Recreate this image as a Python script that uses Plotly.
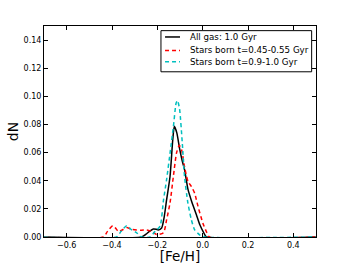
import plotly.graph_objects as go

# All gas: 1.0 Gyr
gas_x = [-0.7, -0.27, -0.25, -0.235, -0.218, -0.205, -0.196, -0.181, -0.17, -0.159, -0.144, -0.132, -0.125,
         -0.114, -0.102, -0.09, -0.08, -0.065, -0.05, -0.028, -0.012, 0.005, 0.017, 0.5]
gas_y = [0.0, 0.0, 0.002, 0.004, 0.0057, 0.0055, 0.005, 0.0064, 0.014, 0.0265, 0.043, 0.069, 0.0787,
         0.074, 0.063, 0.054, 0.048, 0.034, 0.026, 0.016, 0.0085, 0.003, 0.0, 0.0]

# Stars born t=0.45-0.55 Gyr
red_x = [-0.7, -0.438, -0.42, -0.397, -0.385, -0.372, -0.355, -0.335, -0.315, -0.291, -0.27, -0.247, -0.225,
         -0.203, -0.173, -0.159, -0.144, -0.129, -0.115, -0.103, -0.093, -0.08, -0.065, -0.05,
         -0.035, -0.021, 0.001, 0.016, 0.03, 0.5]
red_y = [0.0, 0.0, 0.004, 0.008, 0.0065, 0.004, 0.005, 0.0067, 0.0055, 0.005, 0.0048, 0.005, 0.004,
         0.0017, 0.003, 0.0123, 0.0243, 0.0434, 0.060, 0.0652, 0.062, 0.050, 0.0396, 0.036,
         0.031, 0.022, 0.0098, 0.004, 0.0, 0.0]

# Stars born t=0.9-1.0 Gyr
cyan_x = [-0.7, -0.38, -0.36, -0.335, -0.313, -0.291, -0.269, -0.232, -0.21, -0.188, -0.173, -0.159,
          -0.144, -0.129, -0.117, -0.111, -0.102, -0.09, -0.08, -0.065, -0.05, -0.035, -0.012, 0.01, 0.5]
cyan_y = [0.0, 0.0, 0.004, 0.008, 0.005, 0.003, 0.0, 0.0, 0.004, 0.0077, 0.026, 0.041,
          0.0595, 0.0787, 0.0953, 0.097, 0.091, 0.067, 0.043, 0.024, 0.0123, 0.005, 0.0014, 0.0, 0.0]

series_names = ["All gas: 1.0 Gyr", "Stars born t=0.45-0.55 Gyr", "Stars born t=0.9-1.0 Gyr"]

x_ticks = [-0.6, -0.4, -0.2, 0.0, 0.2, 0.4]
x_tick_labels = ["\u22120.6", "\u22120.4", "\u22120.2", "0.0", "0.2", "0.4"]
y_ticks = [0.0, 0.02, 0.04, 0.06, 0.08, 0.10, 0.12, 0.14]
y_tick_labels = ["0.00", "0.02", "0.04", "0.06", "0.08", "0.10", "0.12", "0.14"]

FONT = "DejaVu Sans"
CYAN = "#00BFBF"
styles = [dict(color="black", width=1.5, dash="solid"),
          dict(color="red", width=1.5, dash="4px,3px"),
          dict(color=CYAN, width=1.5, dash="4px,3px")]

fig = go.Figure()
for xs, ys, name, st in zip([gas_x, red_x, cyan_x], [gas_y, red_y, cyan_y], series_names, styles):
    fig.add_trace(go.Scatter(x=xs, y=ys, mode="lines", name=name, showlegend=False,
                             line=dict(shape="spline", smoothing=0.6, **st)))

axis_common = dict(showgrid=False, zeroline=False, showline=True, linecolor="black", linewidth=1,
                   mirror="ticks", ticks="inside", ticklen=4, tickcolor="black", automargin=False,
                   tickfont=dict(family=FONT, size=8, color="black"))

fig.update_xaxes(range=[-0.7, 0.5], tickvals=x_ticks, ticktext=x_tick_labels,
                 title=dict(text="[Fe/H]", font=dict(family=FONT, size=13.5, color="black"), standoff=2),
                 **axis_common)
fig.update_yaxes(range=[0, 0.15], tickvals=y_ticks, ticktext=y_tick_labels,
                 title=dict(text="dN", font=dict(family=FONT, size=14, color="black"), standoff=1),
                 **axis_common)

# manual legend (box, line samples, labels) in paper coordinates
fig.add_shape(type="rect", xref="paper", yref="paper", x0=0.430, x1=0.984, y0=0.783, y1=0.978,
              line=dict(color="black", width=1), fillcolor="white", layer="above")
row_y = [0.948, 0.884, 0.831]
for ry, name, st in zip(row_y, series_names, styles):
    fig.add_shape(type="line", xref="paper", yref="paper", x0=0.445, x1=0.500, y0=ry, y1=ry,
                  line=st, layer="above")
    fig.add_annotation(xref="paper", yref="paper", x=0.533, y=ry, text=name, showarrow=False,
                       xanchor="left", yanchor="middle", borderpad=0,
                       font=dict(family=FONT, size=8.7, color="black"))

fig.update_layout(
    width=352, height=264,
    margin=dict(l=44, r=36, t=26, b=27, autoexpand=False),
    paper_bgcolor="white", plot_bgcolor="white",
    font=dict(family=FONT, size=8, color="black"),
    showlegend=False,
)

fig.write_html("out.html", config={"displayModeBar": False},
               post_script="document.body.style.margin='0';document.body.style.padding='0';"
                           "document.documentElement.style.overflow='hidden';")
